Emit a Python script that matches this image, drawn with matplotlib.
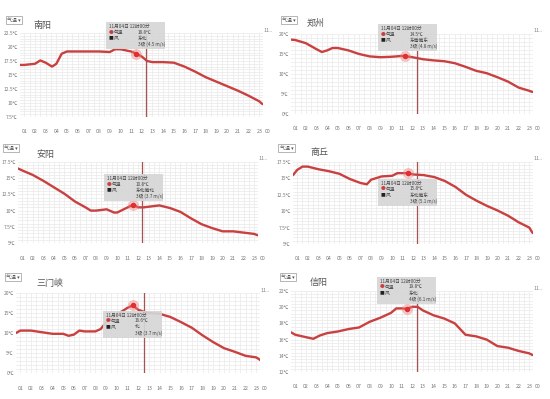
import numpy as np
import matplotlib
matplotlib.use('Agg')
import matplotlib.pyplot as plt
from matplotlib.patches import Rectangle
from matplotlib.ticker import MultipleLocator

plt.rcParams['font.family'] = ['Noto Sans CJK SC', 'DejaVu Sans']

W, H = 550, 399

# ---- data ----
cities = ['南阳', '郑州', '安阳', '商丘', '三门峡', '信阳']

nanyang_t = [0.6, 1, 2, 2.5, 3, 3.6, 4, 4.5, 5, 6, 7, 8, 9, 9.5, 10, 11, 11.5, 12, 12.5, 13, 14, 15, 16, 17, 18, 19, 20, 21, 22, 23, 23.3]
nanyang_v = [16.8, 16.8, 17.0, 17.6, 17.2, 16.5, 17.0, 18.8, 19.2, 19.2, 19.2, 19.2, 19.1, 19.6, 19.6, 19.2, 18.8, 18.3, 17.5, 17.3, 17.3, 17.2, 16.5, 15.6, 14.6, 13.8, 13.0, 12.2, 11.3, 10.3, 9.8]

zhengzhou_t = [0.6, 1, 2, 3, 3.5, 4, 4.5, 5, 6, 7, 8, 9, 10, 11, 11.3, 12, 13, 14, 15, 16, 17, 18, 19, 20, 21, 22, 23, 23.3]
zhengzhou_v = [18.6, 18.5, 17.7, 16.2, 15.5, 15.9, 16.5, 16.5, 15.9, 15.0, 14.4, 14.2, 14.3, 14.5, 14.5, 14.2, 13.7, 13.4, 13.2, 12.7, 11.8, 10.8, 10.2, 9.2, 8.1, 6.6, 5.8, 5.5]

anyang_t = [0.6, 1, 2, 3, 4, 5, 6, 7, 7.5, 8, 9, 9.7, 10, 11, 11.5, 12, 12.5, 13, 14, 15, 16, 17, 18, 19, 20, 21, 22, 23, 23.3]
anyang_v = [16.5, 16.2, 15.5, 14.6, 13.6, 12.6, 11.4, 10.5, 10.0, 10.0, 10.2, 9.7, 9.7, 10.5, 10.9, 10.5, 10.5, 10.6, 10.8, 10.4, 9.8, 8.8, 7.9, 7.3, 6.8, 6.8, 6.6, 6.4, 6.2]

shangqiu_t = [0.6, 1, 1.5, 2, 3, 4, 5, 6, 7, 7.6, 8, 9, 10, 10.5, 11, 11.5, 12, 13, 14, 15, 16, 17, 18, 19, 20, 21, 22, 23, 23.3]
shangqiu_v = [15.5, 16.3, 16.8, 16.8, 16.4, 16.1, 15.7, 14.9, 14.3, 14.1, 14.8, 15.3, 15.4, 15.8, 15.8, 15.8, 15.6, 15.5, 15.2, 14.6, 13.7, 12.5, 11.6, 10.8, 10.1, 9.3, 8.3, 7.5, 6.7]

sanmenxia_t = [0.6, 1, 2, 3, 4, 5, 5.5, 6, 6.5, 7, 8, 8.5, 9, 10, 11, 11.5, 12, 12.5, 13, 14, 15, 16, 17, 18, 19, 20, 21, 22, 23, 23.4]
sanmenxia_v = [10.0, 10.6, 10.6, 10.2, 9.8, 9.8, 9.3, 9.6, 10.6, 10.4, 10.4, 11.0, 12.7, 14.6, 16.3, 16.9, 15.8, 15.3, 15.0, 14.8, 14.0, 12.7, 11.3, 9.4, 7.7, 6.2, 5.3, 4.3, 3.9, 3.2]

xinyang_t = [0.6, 1, 2, 2.7, 3.3, 4, 5, 6, 7, 8, 9, 10, 10.5, 11, 11.5, 12, 12.5, 13, 14, 15, 16, 17, 18, 19, 20, 21, 22, 23, 23.3]
xinyang_v = [16.9, 16.6, 16.3, 16.1, 16.5, 16.8, 17.0, 17.3, 17.5, 18.2, 18.7, 19.3, 19.85, 19.85, 19.8, 20.05, 20.05, 19.6, 19.0, 18.6, 18.0, 16.6, 16.4, 16.0, 15.2, 15.0, 14.6, 14.3, 14.1]

times = [nanyang_t, zhengzhou_t, anyang_t, shangqiu_t, sanmenxia_t, xinyang_t]
temps = [nanyang_v, zhengzhou_v, anyang_v, shangqiu_v, sanmenxia_v, xinyang_v]

hover_time = [11.5, 11.3, 11.5, 11.5, 11.5, 11.5]
hover_temp = [18.8, 14.5, 10.9, 15.8, 16.9, 19.8]
cursor_time = [12.4, 12.4, 12.4, 12.4, 12.5, 12.4]
tip_temp = ['18.8℃', '14.5℃', '10.8℃', '15.8℃', '16.6℃', '19.8℃']
tip_dir = ['东北', '东南偏东', '东北偏北', '东北偏东', '北', '东北']
tip_wind = ['3级 (4.5 m/s)', '3级 (4.8 m/s)', '3级 (3.7 m/s)', '3级 (5.1 m/s)', '3级 (3.7 m/s)', '4级 (6.1 m/s)']

ylims = [(7.5, 22.5), (0, 20), (5, 17.5), (5, 17.5), (0, 20), (12, 22)]
ysteps = [2.5, 5, 2.5, 2.5, 5, 2]

hour_labels = ['%02d' % h for h in range(1, 24)]

# ---- layout in pixels: (left, top, right, bottom) of plot area, tooltip box ----
plots = [(20, 33, 263, 117), (291, 34, 533, 114), (18, 162, 258, 243),
         (293, 162, 533, 244), (16, 293, 260, 373), (291, 291, 533, 372)]
tips = [(106, 22), (378, 24), (104, 174), (378, 179), (103, 311), (377, 277)]
titles = [(33, 25), (307, 23), (36, 154), (310, 152), (36, 283), (310, 282)]
drops = [(7, 20), (282, 20), (4, 148), (280, 148), (6, 277), (281, 277)]

red = '#c94040'
fig = plt.figure(figsize=(W / 100, H / 100), dpi=100)
fig.patch.set_facecolor('white')


def fx(x):
    return x / W


def fy(y):
    return 1 - y / H


for i in range(6):
    l, t, r, b = plots[i]
    ax = fig.add_axes([fx(l), fy(b), (r - l) / W, (b - t) / H])
    ax.set_xlim(0.6, 23.35)
    ax.set_ylim(*ylims[i])
    for s in ax.spines.values():
        s.set_visible(False)
    ax.yaxis.set_minor_locator(MultipleLocator(ysteps[i] / 5))
    ax.xaxis.set_minor_locator(MultipleLocator(0.5))
    ax.set_xticks(range(1, 24))
    ax.set_xticklabels(hour_labels)
    yt = np.arange(ylims[i][0], ylims[i][1] + 0.01, ysteps[i])
    ax.set_yticks(yt)
    ax.set_yticklabels([('%g' % v) + '℃' for v in yt])
    ax.grid(which='both', color='#ececec', lw=0.6)
    ax.set_axisbelow(True)
    ax.tick_params(which='both', length=0)
    ax.tick_params(axis='x', labelsize=3.8, colors='#777777', pad=9)
    ax.tick_params(axis='y', labelsize=3.5, colors='#777777', pad=1.5)
    ax.annotate('00', xy=(23.8, 0), xycoords=('data', 'axes fraction'),
                xytext=(0, -9), textcoords='offset points', fontsize=3.8,
                color='#777777', ha='center', va='top', annotation_clip=False)

    ax.plot(times[i], temps[i], color=red, lw=1.7, solid_joinstyle='round',
            solid_capstyle='round', zorder=3)
    ax.axvline(cursor_time[i], color='#a65252', lw=0.9, zorder=4)
    ax.plot(hover_time[i], hover_temp[i], 'o', ms=7, color='#f08080', alpha=0.35, zorder=5)
    ax.plot(hover_time[i], hover_temp[i], 'o', ms=3, color='#e03030', zorder=6)

    # title, dropdown, right hint
    tx, ty = titles[i]
    fig.text(fx(tx), fy(ty), cities[i], fontsize=6.5, color='#555555', va='center')
    dx, dy = drops[i]
    fig.text(fx(dx), fy(dy), '气温 ▾', fontsize=3.6, color='#555555', va='center',
             bbox=dict(boxstyle='square,pad=0.3', fc='white', ec='#999999', lw=0.5))
    fig.text(fx(r + 1), fy(t - 3), '11..', fontsize=4, color='#888888', va='center')

    # tooltip
    bx, by = tips[i]
    fig.add_artist(Rectangle((fx(bx), fy(by + 27)), 59 / W, 27 / H, transform=fig.transFigure,
                             fc='#d6d6d6', ec='none', alpha=0.92, zorder=10))
    fs = 3.4
    kw = dict(fontsize=fs, color='#444444', va='center', zorder=11)
    fig.text(fx(bx + 3), fy(by + 4), '11月04日 12时00分', **kw)
    fig.text(fx(bx + 3), fy(by + 10), '●', fontsize=fs, color=red, va='center', zorder=11)
    fig.text(fx(bx + 8), fy(by + 10), '气温', **kw)
    fig.text(fx(bx + 32), fy(by + 10), tip_temp[i], **kw)
    fig.text(fx(bx + 3), fy(by + 16), '■', fontsize=fs, color='#222222', va='center', zorder=11)
    fig.text(fx(bx + 8), fy(by + 16), '风', **kw)
    fig.text(fx(bx + 32), fy(by + 16), tip_dir[i], **kw)
    fig.text(fx(bx + 32), fy(by + 22), tip_wind[i], **kw)

fig.savefig('out.png', dpi=100)
